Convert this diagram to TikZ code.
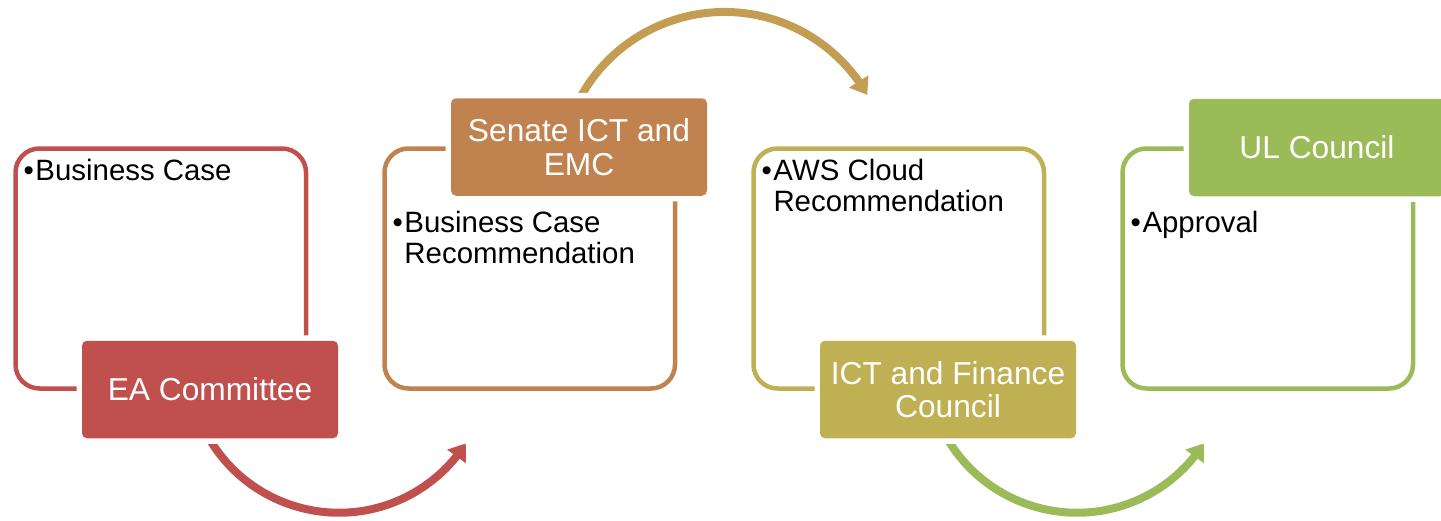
\documentclass[tikz,border=0pt]{standalone}
\usepackage{fontspec}
\setmainfont{Liberation Sans}
\usetikzlibrary{arrows.meta,bending,calc}
\definecolor{cred}{HTML}{C0504D}
\definecolor{corange}{HTML}{C0834F}
\definecolor{colive}{HTML}{BFB053}
\definecolor{cgreen}{HTML}{9BBB59}
\definecolor{carrowtop}{HTML}{C39D52}
\newcommand{\bul}{•\hspace{1.5pt}}
\newcommand{\nobul}{\hphantom{•\hspace{1.5pt}}}
\begin{document}
\begin{tikzpicture}[x=1pt,y=-1pt,
  outlinebox/.style={rectangle, line width=4.5pt, rounded corners=24pt, minimum width=290.5pt, minimum height=240pt, inner sep=0pt},
  stage/.style={rectangle, rounded corners=5pt, minimum width=256pt, minimum height=97.5pt, inner sep=0pt, text=white, align=center, font=\fontsize{31.7}{33.5}\selectfont, preaction={draw=white, line width=11pt}},
  bullets/.style={anchor=base west, inner sep=0pt, font=\fontsize{29.4}{31}\selectfont},
  flow/.style={line width=8pt, -{Triangle[width=22pt,length=16pt]}}
]
\useasboundingbox (0,0) rectangle (1441,520);
% outlined boxes
\node[outlinebox, draw=cred]    (b1) at (160.75,268.5) {};
\node[outlinebox, draw=corange] (b2) at (529.75,268.5) {};
\node[outlinebox, draw=colive]  (b3) at (898.75,268.5) {};
\node[outlinebox, draw=cgreen]  (b4) at (1267.75,268.5) {};
% bullet texts
\node[bullets] (t1) at (23.5,180) {\begin{tabular}[t]{@{}l@{}}\bul Business Case\end{tabular}};
\node[bullets] (t2) at (392.5,232) {\begin{tabular}[t]{@{}l@{}}\bul Business Case\\\nobul Recommendation\end{tabular}};
\node[bullets] (t3) at (761.5,180) {\begin{tabular}[t]{@{}l@{}}\bul AWS Cloud\\\nobul Recommendation\end{tabular}};
\node[bullets] (t4) at (1130.5,232) {\begin{tabular}[t]{@{}l@{}}\bul Approval\end{tabular}};
% arrows
\coordinate (r0) at ($(339,362)+(152:150.7)$);
\coordinate (o0) at ($(724.5,176.4)+(205:164.4)$);
\coordinate (g0) at ($(1077,362)+(152:150.7)$);
\draw[flow, cred] (r0) arc[start angle=152, end angle=32.7, radius=150.7];
\draw[flow, carrowtop] (o0) arc[start angle=205, end angle=330.3, radius=164.4];
\draw[flow, cgreen] (g0) arc[start angle=152, end angle=32.7, radius=150.7];
% filled stage boxes
\node[stage, fill=cred]    (s1) at (210,389.5) {EA Committee};
\node[stage, fill=corange] (s2) at (579,147) {Senate ICT and\\EMC};
\node[stage, fill=colive]  (s3) at (948,389.5) {ICT and Finance\\Council};
\node[stage, fill=cgreen]  (s4) at (1317,147.5) {UL Council};
\end{tikzpicture}
\end{document}
